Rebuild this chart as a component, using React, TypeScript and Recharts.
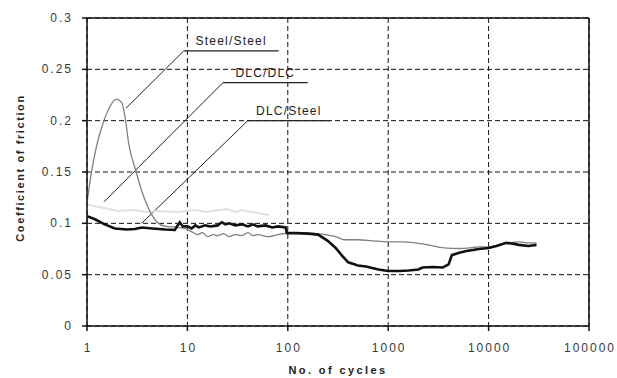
import { CartesianGrid, Line, LineChart, ReferenceLine, XAxis, YAxis } from 'recharts'

const xTicks = [1, 10, 100, 1000, 10000, 100000]
const yTicks = [0, 0.05, 0.1, 0.15, 0.2, 0.25, 0.3]

// [cycles, coefficient of friction]
const steelSteel: Array<[number, number]> = [
  [1, 0.12], [1.1, 0.148], [1.25, 0.176], [1.44, 0.197], [1.7, 0.214], [1.95, 0.221], [2.2, 0.218],
  [2.4, 0.203], [2.6, 0.178], [3.07, 0.151], [3.5, 0.132], [3.95, 0.118], [4.5, 0.107], [5, 0.101],
  [6, 0.097], [8, 0.096], [10, 0.094], [11, 0.092], [12.7, 0.089], [14, 0.091], [16, 0.087],
  [18, 0.089], [20, 0.088], [23, 0.09], [26, 0.087], [30, 0.089], [35, 0.088], [40, 0.091],
  [45, 0.088], [50, 0.089], [63, 0.087], [80, 0.089], [100, 0.0905], [150, 0.0905], [200, 0.09],
  [300, 0.087], [370, 0.084], [500, 0.084], [700, 0.083], [1000, 0.082], [1400, 0.082],
  [1850, 0.081], [2500, 0.079], [3600, 0.076], [5000, 0.0755], [6500, 0.076], [8000, 0.077],
  [10000, 0.077], [14000, 0.08], [20000, 0.082], [25000, 0.081], [30000, 0.081],
]

const dlcDlc: Array<[number, number]> = [
  [1, 0.118], [1.5, 0.115], [2, 0.112], [3, 0.113], [4, 0.111], [5, 0.112], [8, 0.111], [12, 0.113],
  [15, 0.111], [18, 0.112], [25, 0.114], [30, 0.111], [35, 0.113], [50, 0.11], [65, 0.108],
]

const dlcSteel: Array<[number, number]> = [
  [1, 0.107], [1.2, 0.104], [1.5, 0.099], [1.9, 0.095], [2.5, 0.094], [3, 0.0945], [3.5, 0.096],
  [4.5, 0.095], [6, 0.094], [7.5, 0.0935], [8, 0.098], [8.4, 0.101], [9, 0.097], [10, 0.097],
  [11, 0.095], [12, 0.098], [13, 0.096], [15, 0.098], [17, 0.097], [20, 0.098], [22, 0.101],
  [24, 0.099], [26, 0.1], [30, 0.098], [35, 0.099], [40, 0.097], [45, 0.099], [50, 0.097],
  [60, 0.098], [70, 0.096], [80, 0.097], [95, 0.096], [98, 0.0905], [120, 0.0905], [160, 0.09],
  [200, 0.089], [250, 0.083], [300, 0.076], [350, 0.068], [400, 0.062], [500, 0.059], [600, 0.058],
  [800, 0.055], [1000, 0.0535], [1300, 0.0535], [1600, 0.054], [2000, 0.055], [2200, 0.057],
  [2800, 0.0575], [3500, 0.057], [4000, 0.06], [4300, 0.069], [5000, 0.071], [6000, 0.073],
  [7000, 0.074], [8000, 0.075], [10000, 0.076], [12000, 0.078], [15000, 0.081], [18000, 0.08],
  [20000, 0.079], [25000, 0.078], [30000, 0.079],
]

// leader lines: [start, elbow, end] in data units, with the label text
const leaders: Array<{ label: string; pts: Array<[number, number]> }> = [
  { label: 'Steel/Steel', pts: [[2.44, 0.212], [9.2, 0.268], [81, 0.268]] },
  { label: 'DLC/DLC', pts: [[1.48, 0.121], [22.6, 0.237], [158, 0.237]] },
  { label: 'DLC/Steel', pts: [[3.5, 0.1], [40, 0.2], [262, 0.2]] },
]

const toRows = (pts: Array<[number, number]>) => pts.map(([x, y]) => ({ x, y }))

const font = '"Liberation Sans", Arial, sans-serif'

const XTick = ({ x, y, payload }: any) => (
  <text x={x} y={y} dx={1} dy="0.71em" textAnchor="middle" fill="#3a3a3a" fontFamily={font} fontSize={12} style={{ letterSpacing: 2 }}>
    {payload.value}
  </text>
)

const YTick = ({ x, y, payload }: any) => (
  <text x={x} y={y} dx={2} dominantBaseline="central" textAnchor="end" fill="#3a3a3a" fontFamily={font} fontSize={12} style={{ letterSpacing: 2 }}>
    {String(payload.value)}
  </text>
)

export default function App() {
  return (
    <div style={{ position: 'absolute', left: 0, top: 0, width: 617, height: 378, background: '#fff' }}>
      <LineChart width={617} height={378} margin={{ top: 18, right: 28, bottom: 0, left: 0 }}>
        <CartesianGrid stroke="#111" strokeDasharray="5 3" strokeWidth={1} />
        <XAxis
          type="number"
          dataKey="x"
          scale="log"
          domain={[1, 100000]}
          ticks={xTicks}
          allowDataOverflow
          height={52}
          stroke="#111"
          strokeWidth={1.5}
          tickSize={5}
          tickMargin={12}
          tick={<XTick />}
          label={{
            content: ({ viewBox }: any) => (
              <text
                x={viewBox.x + viewBox.width / 2}
                y={viewBox.y + viewBox.height - 4}
                textAnchor="middle"
                fill="#222"
                fontFamily={font}
                fontWeight="bold"
                fontSize={11}
                style={{ letterSpacing: 2.4 }}
              >
                No. of cycles
              </text>
            ),
          }}
        />
        <YAxis
          type="number"
          domain={[0, 0.3]}
          ticks={yTicks}
          width={87}
          stroke="#111"
          strokeWidth={1.5}
          tickSize={5}
          tickMargin={11}
          tick={<YTick />}
          label={{
            content: ({ viewBox }: any) => {
              const cx = viewBox.x + 20
              const cy = viewBox.y + viewBox.height / 2 - 4
              return (
                <text
                  x={cx}
                  y={cy}
                  transform={`rotate(-90 ${cx} ${cy})`}
                  textAnchor="middle"
                  dominantBaseline="central"
                  fill="#222"
                  fontFamily={font}
                  fontWeight="bold"
                  fontSize={11}
                  style={{ letterSpacing: 1.6 }}
                >
                  Coefficient of friction
                </text>
              )
            },
          }}
        />
        <ReferenceLine y={0.3} stroke="#111" strokeWidth={1.5} />
        <ReferenceLine x={100000} stroke="#111" strokeWidth={1.5} />
        {leaders.map((l) => (
          <ReferenceLine
            key={l.label + 'a'}
            segment={[{ x: l.pts[0][0], y: l.pts[0][1] }, { x: l.pts[1][0], y: l.pts[1][1] }]}
            stroke="#222"
            strokeWidth={1}
          />
        ))}
        {leaders.map((l) => (
          <ReferenceLine
            key={l.label + 'b'}
            segment={[{ x: l.pts[1][0], y: l.pts[1][1] }, { x: l.pts[2][0], y: l.pts[2][1] }]}
            stroke="#222"
            strokeWidth={1.2}
            label={{
              content: ({ viewBox }: any) => (
                <text
                  x={viewBox.x + viewBox.width / 2}
                  y={viewBox.y - 6}
                  textAnchor="middle"
                  fill="#222"
                  fontFamily={font}
                  fontSize={12}
                  style={{ letterSpacing: 1.2 }}
                >
                  {l.label}
                </text>
              ),
            }}
          />
        ))}
        <Line data={toRows(dlcDlc)} dataKey="y" stroke="#e0e0e0" strokeWidth={2} dot={false} isAnimationActive={false} />
        <Line data={toRows(steelSteel)} type="monotone" dataKey="y" stroke="#808080" strokeWidth={1.3} dot={false} isAnimationActive={false} />
        <Line data={toRows(dlcSteel)} dataKey="y" stroke="#111" strokeWidth={2.6} dot={false} isAnimationActive={false} />
      </LineChart>
    </div>
  )
}
